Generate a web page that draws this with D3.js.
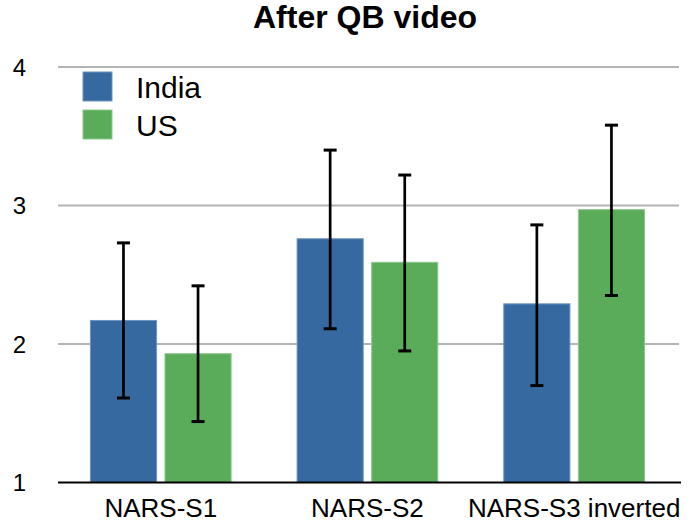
<!DOCTYPE html>
<html>
<head>
<meta charset="utf-8">
<script src="https://cdn.jsdelivr.net/npm/d3@7"></script>
<style>
  body { margin: 0; background: #fff; }
  text { font-family: "Liberation Sans", Arial, Helvetica, sans-serif; }
</style>
</head>
<body>
<div class="canvas"></div>
<script>
// chart data
const categories = ['NARS-S1', 'NARS-S2', 'NARS-S3 inverted']
const series = ['India', 'US']
const india = [2.17, 2.76, 2.29]
const us = [1.93, 2.59, 2.97]
const indiaLow = [1.61, 2.11, 1.70]
const indiaHigh = [2.73, 3.40, 2.86]
const usLow = [1.44, 1.95, 2.35]
const usHigh = [2.42, 3.22, 3.58]
const yTicks = [1, 2, 3, 4]
const colours = ['#36699f', '#5aab5a']
const strokes = ['#6f95c0', '#8cc98c']

// graph constant settings
const dims = { width: 699, height: 525 }
const plot = { left: 58, right: 680, top: 67, bottom: 482.5 }

const svg = d3.select('.canvas')
  .append('svg')
  .attr('width', dims.width)
  .attr('height', dims.height)

const data = categories.map((c, i) => ({
  cat: c,
  vals: [
    { s: 'India', v: india[i], lo: indiaLow[i], hi: indiaHigh[i] },
    { s: 'US', v: us[i], lo: usLow[i], hi: usHigh[i] }
  ]
}))

const y = d3.scaleLinear().domain([1, 4]).range([plot.bottom, plot.top])

const x0 = d3.scaleBand()
  .domain(categories)
  .range([plot.left - 0.6, plot.left - 0.6 + 206.7 * 3])

const x1 = d3.scaleBand()
  .domain(series)
  .range([32.5, x0.bandwidth() - 32.5])
  .paddingInner(0.1)

const colour = d3.scaleOrdinal().domain(series).range(colours)
const stroke = d3.scaleOrdinal().domain(series).range(strokes)

// gridlines
svg.append('g')
  .selectAll('line')
  .data(yTicks.slice(1))
  .enter()
  .append('line')
  .attr('x1', plot.left)
  .attr('x2', plot.right - 1)
  .attr('y1', d => y(d))
  .attr('y2', d => y(d))
  .attr('stroke', '#b4b4b4')
  .attr('stroke-width', 2)

// y tick labels
svg.append('g')
  .selectAll('text')
  .data(yTicks)
  .enter()
  .append('text')
  .attr('x', 26)
  .attr('y', d => y(d))
  .attr('dy', '0.36em')
  .attr('text-anchor', 'end')
  .attr('font-size', 24)
  .text(d => d)

// bars
const groups = svg.append('g')
  .selectAll('g')
  .data(data)
  .enter()
  .append('g')
  .attr('transform', d => `translate(${x0(d.cat)},0)`)

groups.selectAll('rect')
  .data(d => d.vals)
  .enter()
  .append('rect')
  .attr('x', d => x1(d.s) + 0.5)
  .attr('width', x1.bandwidth() - 1)
  .attr('y', d => y(d.v))
  .attr('height', d => y(1) - y(d.v))
  .attr('fill', d => colour(d.s))
  .attr('stroke', d => stroke(d.s))
  .attr('stroke-width', 1)

// error bars
const err = groups.selectAll('g.err')
  .data(d => d.vals)
  .enter()
  .append('g')
  .attr('class', 'err')
  .attr('transform', d => `translate(${x1(d.s) + x1.bandwidth() / 2},0)`)

err.append('line')
  .attr('y1', d => y(d.lo))
  .attr('y2', d => y(d.hi))
  .attr('stroke', '#000')
  .attr('stroke-width', 2.7)

err.selectAll('line.cap')
  .data(d => [d.lo, d.hi])
  .enter()
  .append('line')
  .attr('class', 'cap')
  .attr('x1', -6.5)
  .attr('x2', 6.5)
  .attr('y1', d => y(d))
  .attr('y2', d => y(d))
  .attr('stroke', '#000')
  .attr('stroke-width', 3)

// baseline
svg.append('line')
  .attr('x1', plot.left)
  .attr('x2', plot.right + 1)
  .attr('y1', y(1))
  .attr('y2', y(1))
  .attr('stroke', '#000')
  .attr('stroke-width', 2)

// category labels
svg.append('g')
  .selectAll('text')
  .data(categories)
  .enter()
  .append('text')
  .attr('x', d => x0(d) + x0.bandwidth() / 2)
  .attr('y', 517)
  .attr('text-anchor', 'middle')
  .attr('font-size', 26)
  .text(d => d)

// title
svg.append('text')
  .attr('x', 365)
  .attr('y', 28)
  .attr('text-anchor', 'middle')
  .attr('font-size', 32)
  .attr('font-weight', 'bold')
  .text('After QB video')

// legend
const legend = svg.append('g')
  .selectAll('g')
  .data(series)
  .enter()
  .append('g')
  .attr('transform', (d, i) => `translate(83,${72 + i * 38})`)

legend.append('rect')
  .attr('width', 29)
  .attr('height', 29)
  .attr('fill', d => colour(d))
  .attr('stroke', d => stroke(d))
  .attr('stroke-width', 1)

legend.append('text')
  .attr('x', 53)
  .attr('y', 26)
  .attr('font-size', 30)
  .text(d => d)
</script>
</body>
</html>
